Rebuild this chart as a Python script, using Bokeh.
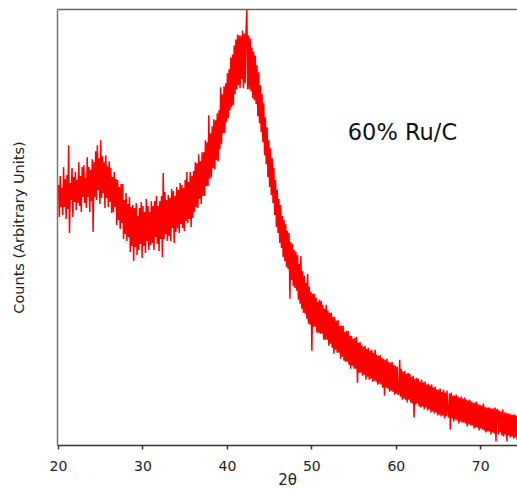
import numpy as np
from bokeh.plotting import figure
from bokeh.models import LinearAxis, FixedTicker, Range1d, Label
from bokeh.embed import file_html
from bokeh.resources import INLINE

# XRD pattern of 60% Ru/C, sampled every 0.1 degree 2-theta starting at 20.0
two_theta_start = 20.0
two_theta_step = 0.1
counts = [
    260, 228, 269, 238, 257, 230, 278, 238, 266, 226,
    270, 236, 300, 212, 262, 245, 277, 228, 268, 243,
    273, 235, 265, 242, 283, 239, 269, 233, 278, 248,
    280, 242, 267, 237, 288, 248, 278, 233, 275, 244,
    286, 213, 283, 248, 294, 245, 300, 255, 287, 241,
    305, 247, 289, 252, 283, 237, 290, 247, 279, 238,
    284, 243, 277, 232, 268, 233, 273, 238, 266, 220,
    265, 225, 258, 216, 261, 222, 261, 206, 245, 211,
    252, 204, 241, 208, 248, 193, 238, 199, 240, 184,
    237, 198, 242, 190, 229, 195, 237, 201, 243, 187,
    239, 199, 233, 192, 246, 204, 239, 195, 233, 200,
    244, 202, 239, 195, 244, 208, 249, 201, 239, 194,
    244, 206, 249, 188, 272, 206, 253, 211, 245, 204,
    250, 209, 247, 204, 256, 217, 254, 202, 249, 213,
    258, 217, 255, 212, 262, 221, 260, 217, 257, 214,
    265, 224, 273, 222, 263, 226, 273, 218, 269, 227,
    274, 233, 283, 238, 282, 237, 291, 246, 284, 241,
    293, 249, 293, 249, 305, 259, 303, 259, 330, 266,
    312, 268, 319, 277, 326, 276, 325, 285, 332, 284,
    335, 296, 358, 301, 351, 312, 359, 312, 362, 323,
    372, 327, 376, 335, 388, 338, 391, 340, 400, 351,
    406, 356, 411, 360, 410, 357, 410, 366, 415, 357,
    412, 362, 413, 436, 356, 410, 356, 407, 354, 398,
    347, 394, 345, 390, 341, 380, 329, 373, 322, 360,
    313, 351, 303, 342, 290, 328, 281, 318, 268, 305,
    258, 297, 250, 287, 242, 277, 230, 265, 218, 255,
    212, 246, 202, 240, 197, 229, 188, 225, 184, 221,
    178, 214, 176, 212, 146, 203, 165, 201, 159, 195,
    157, 193, 154, 190, 145, 181, 141, 189, 136, 174,
    132, 169, 131, 162, 126, 171, 121, 158, 120, 153,
    94, 151, 118, 151, 118, 147, 112, 143, 112, 145,
    111, 144, 111, 140, 105, 136, 105, 140, 105, 134,
    99, 132, 101, 132, 97, 128, 91, 128, 95, 124,
    92, 125, 92, 119, 86, 119, 88, 119, 84, 113,
    83, 114, 83, 114, 80, 109, 76, 109, 79, 106,
    76, 107, 76, 108, 62, 102, 72, 103, 72, 100,
    69, 98, 70, 99, 65, 96, 68, 97, 65, 94,
    66, 95, 63, 92, 64, 95, 63, 90, 60, 89,
    61, 90, 60, 87, 57, 86, 49, 85, 57, 86,
    56, 83, 53, 82, 54, 83, 53, 80, 50, 79,
    51, 78, 50, 51, 85, 48, 76, 45, 73, 46,
    74, 45, 71, 42, 72, 45, 71, 42, 68, 41,
    69, 27, 66, 40, 67, 41, 66, 38, 63, 37,
    65, 38, 62, 35, 63, 37, 60, 34, 61, 35,
    59, 32, 60, 33, 57, 31, 58, 32, 55, 29,
    55, 30, 56, 28, 53, 29, 55, 26, 52, 28,
    54, 33, 27, 51, 15, 52, 26, 49, 23, 49,
    25, 50, 24, 48, 21, 47, 23, 48, 22, 46,
    22, 47, 21, 45, 18, 44, 20, 45, 19, 43,
    19, 42, 16, 42, 17, 43, 17, 40, 14, 40,
    16, 39, 15, 41, 14, 38, 12, 37, 13, 37,
    13, 37, 10, 36, 12, 36, 11, 37, 3, 35,
    35, 10, 34, 12, 33, 9, 35, 8, 32, 10,
    32, 3, 31, 9, 31, 7, 30, 8, 30, 6,
    30, 7, 29, 5, 27,
]
two_theta = [round(two_theta_start + i * two_theta_step, 1) for i in range(len(counts))]

x_ticks = [20, 30, 40, 50, 60, 70]
x_label = "2θ"
y_label = "Counts (Arbitrary Units)"
sample_label = "60% Ru/C"
sample_label_x = 54.25
sample_label_y = 313

FONT = "DejaVu Sans"

p = figure(width=517, height=491, output_backend="svg", toolbar_location=None,
           x_range=Range1d(19.88, 74.35), y_range=Range1d(-1, 436),
           min_border_left=57, min_border_right=0, min_border_top=9,
           min_border_bottom=46)
p.outline_line_color = None
p.grid.visible = False
p.background_fill_color = "white"

p.line(two_theta, counts, line_color="#ff0000", line_width=1.5)

xa = p.xaxis[0]
xa.ticker = FixedTicker(ticks=x_ticks)
xa.axis_label = x_label
xa.major_tick_out = 4
xa.major_tick_in = 0
xa.minor_tick_out = 0
xa.minor_tick_in = 0
xa.axis_line_color = "#333333"
xa.axis_line_width = 1.5
xa.major_tick_line_color = "#333333"
xa.major_tick_line_width = 1.5
xa.major_label_text_font = FONT
xa.major_label_text_font_size = "14px"
xa.major_label_text_color = "#222222"
xa.major_label_standoff = 11
xa.axis_label_text_font = FONT
xa.axis_label_text_font_size = "15px"
xa.axis_label_text_font_style = "normal"
xa.axis_label_text_color = "#222222"
xa.axis_label_standoff = -3

ya = p.yaxis[0]
ya.ticker = FixedTicker(ticks=[])
ya.major_tick_out = 0
ya.major_tick_in = 0
ya.minor_tick_out = 0
ya.minor_tick_in = 0
ya.axis_line_color = "#777777"
ya.axis_line_width = 1.5
ya.axis_label = y_label
ya.axis_label_text_font = FONT
ya.axis_label_text_font_size = "14.5px"
ya.axis_label_text_font_style = "normal"
ya.axis_label_text_color = "#222222"
ya.axis_label_standoff = 31

top = LinearAxis(ticker=FixedTicker(ticks=[]), major_tick_out=0, major_tick_in=0,
                 minor_tick_out=0, minor_tick_in=0, axis_line_color="#666666",
                 axis_line_width=1.5, major_label_text_font_size="0px")
p.add_layout(top, "above")

p.add_layout(Label(x=sample_label_x, y=sample_label_y, text=sample_label,
                   text_font=FONT, text_font_size="22.5px", text_color="#111111",
                   text_align="left", text_baseline="alphabetic"))

open("out.html", "w").write(file_html(p, INLINE))
